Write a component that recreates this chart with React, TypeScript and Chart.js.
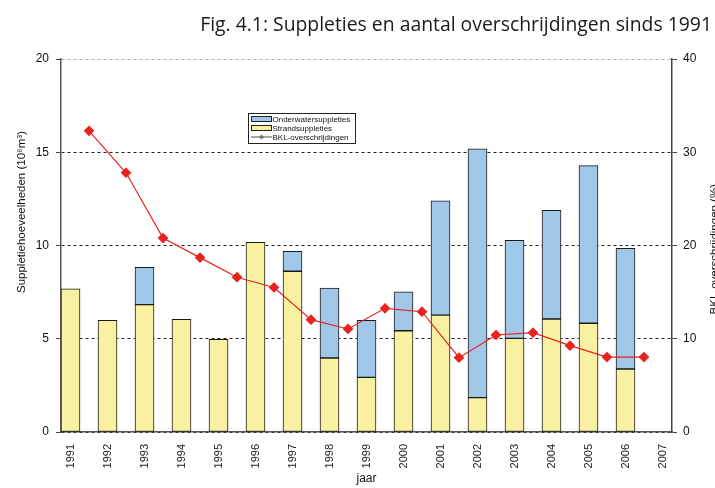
import React, { useEffect, useRef } from "react";
import { Chart, registerables } from "chart.js";

Chart.register(...registerables);

const years = [1991, 1992, 1993, 1994, 1995, 1996, 1997, 1998, 1999, 2000, 2001, 2002, 2003, 2004, 2005, 2006];
const tickYears = [1991, 1992, 1993, 1994, 1995, 1996, 1997, 1998, 1999, 2000, 2001, 2002, 2003, 2004, 2005, 2006, 2007];
const strandsuppleties = [7.68, 5.99, 6.83, 6.04, 4.97, 10.17, 8.62, 3.97, 2.93, 5.43, 6.27, 1.84, 5.02, 6.06, 5.83, 3.38];
const onderwatersuppleties = [0, 0, 2.0, 0, 0, 0, 1.07, 3.75, 3.06, 2.09, 6.13, 13.35, 5.26, 5.83, 8.45, 6.47];
const bklOverschrijdingen = [32.3, 27.8, 20.8, 18.7, 16.6, 15.5, 12.05, 11.05, 13.26, 12.9, 7.97, 10.4, 10.65, 9.26, 8.04, 8.04];
const leftTicks = [0, 5, 10, 15, 20];
const rightTicks = [0, 10, 20, 30, 40];

const TITLE = "Fig. 4.1: Suppleties en aantal overschrijdingen sinds 1991";
const Y_TITLE = "Suppletiehoeveelheden (10\u2076m\u00b3)";
const Y1_TITLE = "BKL-overschrijdingen (%)";
const X_TITLE = "jaar";

const YELLOW = "#F8F1A2";
const BLUE = "#A0C6E8";
const RED = "#E8231F";
const ARIAL = '"Liberation Sans", Arial, sans-serif';

const textPlugin = {
  id: "texts",
  afterDraw(chart: any) {
    const ctx = chart.ctx as CanvasRenderingContext2D;
    const a = chart.chartArea;
    ctx.save();
    let size = 24;
    ctx.font = `${size}px "Open Sans", sans-serif`;
    const w = ctx.measureText(TITLE).width;
    size = (size * 512) / w;
    ctx.font = `${size}px "Open Sans", sans-serif`;
    ctx.fillStyle = "#1a1a1a";
    ctx.textAlign = "right";
    ctx.textBaseline = "alphabetic";
    ctx.fillText(TITLE, 712, 31);

    ctx.font = `11.5px ${ARIAL}`;
    ctx.fillStyle = "#111";
    ctx.save();
    ctx.translate(25, 131);
    ctx.rotate(-Math.PI / 2);
    ctx.textAlign = "right";
    ctx.fillText(Y_TITLE, 0, 0);
    ctx.restore();

    ctx.save();
    ctx.translate(718, 184);
    ctx.rotate(-Math.PI / 2);
    ctx.textAlign = "right";
    ctx.fillText(Y1_TITLE, 0, 0);
    ctx.restore();

    ctx.font = `12px ${ARIAL}`;
    ctx.textAlign = "center";
    ctx.fillText(X_TITLE, (a.left + a.right) / 2, 482);

    const lx = 248.5, ly = 113.5, lw = 107, lh = 30;
    ctx.fillStyle = "#fff";
    ctx.fillRect(lx, ly, lw, lh);
    ctx.strokeStyle = "#222";
    ctx.lineWidth = 1;
    ctx.strokeRect(lx, ly, lw, lh);
    ctx.font = `8px ${ARIAL}`;
    ctx.textAlign = "left";
    ctx.textBaseline = "middle";
    const rows = [
      { label: "Onderwatersuppleties", type: "box", color: BLUE },
      { label: "Strandsuppleties", type: "box", color: YELLOW },
      { label: "BKL-overschrijdingen", type: "line", color: "#888" },
    ];
    rows.forEach((r, i) => {
      const cy = 119 + i * 9;
      if (r.type === "box") {
        ctx.fillStyle = r.color;
        ctx.fillRect(251.5, cy - 2.5, 20, 5);
        ctx.strokeStyle = "#222";
        ctx.strokeRect(251.5, cy - 2.5, 20, 5);
      } else {
        ctx.strokeStyle = r.color;
        ctx.lineWidth = 1.5;
        ctx.beginPath();
        ctx.moveTo(251, cy);
        ctx.lineTo(272, cy);
        ctx.stroke();
        ctx.fillStyle = "#777";
        ctx.beginPath();
        ctx.moveTo(261.5, cy - 2.5);
        ctx.lineTo(264, cy);
        ctx.lineTo(261.5, cy + 2.5);
        ctx.lineTo(259, cy);
        ctx.closePath();
        ctx.fill();
        ctx.lineWidth = 1;
      }
      ctx.fillStyle = "#111";
      ctx.fillText(r.label, 272.5, cy + 0.5);
    });
    ctx.restore();
  },
};

export default function App() {
  const ref = useRef<HTMLCanvasElement | null>(null);

  useEffect(() => {
    const canvas = ref.current;
    if (!canvas) return;
    const chart = new Chart(canvas, {
      type: "bar",
      data: {
        datasets: [
          {
            type: "bar",
            label: "Strandsuppleties",
            data: strandsuppleties.map((v, i) => ({ x: years[i], y: v })),
            backgroundColor: YELLOW,
            borderColor: "#1a1a1a",
            borderWidth: 1,
            borderSkipped: false,
            barThickness: 19,
            yAxisID: "y",
            stack: "s",
            order: 1,
          },
          {
            type: "bar",
            label: "Onderwatersuppleties",
            data: onderwatersuppleties.map((v, i) => ({ x: years[i], y: v > 0 ? v : null })),
            backgroundColor: BLUE,
            borderColor: "#1a1a1a",
            borderWidth: 1,
            borderSkipped: false,
            barThickness: 19,
            yAxisID: "y",
            stack: "s",
            order: 1,
          },
          {
            type: "line",
            label: "BKL-overschrijdingen",
            data: bklOverschrijdingen.map((v, i) => ({ x: years[i] + 0.5, y: v })),
            yAxisID: "y1",
            xAxisID: "x",
            borderColor: RED,
            backgroundColor: RED,
            borderWidth: 1.2,
            pointStyle: "rectRot",
            pointRadius: 4.5,
            pointBackgroundColor: RED,
            pointBorderColor: RED,
            tension: 0,
            order: 0,
          } as any,
        ],
      },
      options: {
        animation: false,
        responsive: false,
        maintainAspectRatio: false,
        layout: { padding: { top: 59, left: 0, right: 0, bottom: 0 } },
        plugins: {
          legend: { display: false },
          tooltip: { enabled: false },
          title: { display: false },
        },
        scales: {
          x: {
            type: "linear",
            stacked: true,
            offset: false,
            min: tickYears[0] - 0.257,
            max: tickYears[tickYears.length - 1] + 0.257,
            afterBuildTicks: (s: any) => {
              s.ticks = tickYears.map((v) => ({ value: v }));
            },
            afterFit: (s: any) => {
              s.height = 56;
            },
            grid: { display: false, drawTicks: false, offset: false },
            border: { display: true, color: "#555", width: 1.5 },
            ticks: {
              autoSkip: false,
              minRotation: 90,
              maxRotation: 90,
              padding: 12,
              color: "#222",
              font: { family: ARIAL, size: 11 },
              callback: (v: any) => String(v),
            },
          },
          y: {
            type: "linear",
            position: "left",
            stacked: true,
            min: 0,
            max: 20,
            afterBuildTicks: (s: any) => {
              s.ticks = leftTicks.map((v) => ({ value: v }));
            },
            afterFit: (s: any) => {
              s.width = 61;
            },
            grid: {
              color: (c: any) => (c.tick && c.tick.value === 20 ? "#aaa" : "#222"),
              lineWidth: 1,
              drawTicks: true,
              tickLength: 5,
              tickColor: "#444",
            },
            border: { display: true, color: "#555", width: 1.5, dash: [3, 3] },
            ticks: {
              padding: 7,
              color: "#111",
              font: { family: ARIAL, size: 12 },
            },
          },
          y1: {
            type: "linear",
            position: "right",
            min: 0,
            max: 40,
            afterBuildTicks: (s: any) => {
              s.ticks = rightTicks.map((v) => ({ value: v }));
            },
            afterFit: (s: any) => {
              s.width = 43;
            },
            grid: {
              drawOnChartArea: false,
              drawTicks: true,
              tickLength: 5,
              tickColor: "#444",
            },
            border: { display: true, color: "#444", width: 1.5 },
            ticks: {
              padding: 6,
              color: "#111",
              font: { family: ARIAL, size: 12 },
            },
          },
        },
      },
      plugins: [textPlugin],
    });
    return () => chart.destroy();
  }, []);

  return (
    <div style={{ position: "fixed", left: 0, top: 0, width: 715, height: 488, overflow: "hidden", background: "#fff" }}>
      <canvas ref={ref} width={715} height={488} style={{ display: "block", width: 715, height: 488 }} />
    </div>
  );
}
